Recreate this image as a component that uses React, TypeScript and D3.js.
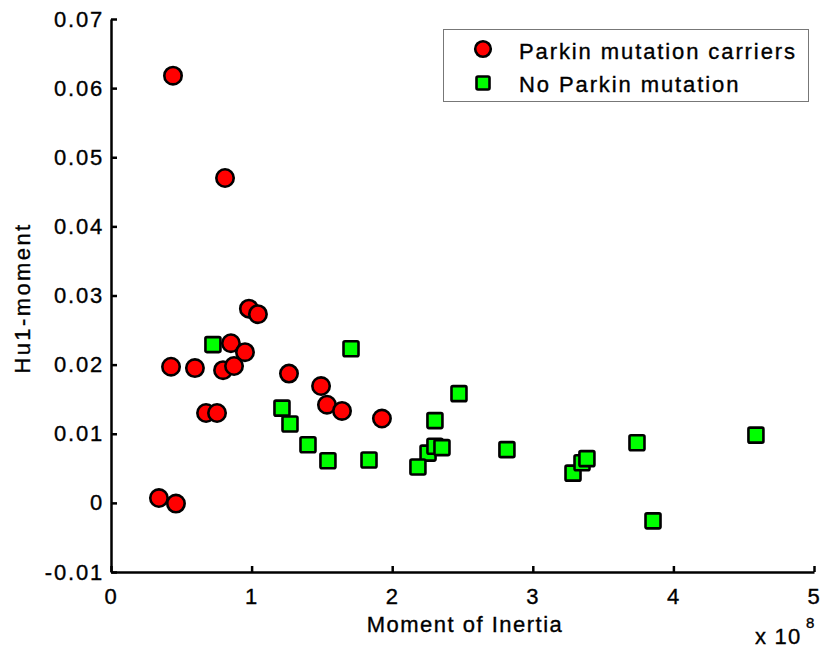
import * as d3 from "d3";
import { useEffect, useRef } from "react";

// Parkin mutation carriers (x in units of 1e8)
const carrierX = [0.441, 0.811, 0.981, 1.045, 0.853, 0.953, 0.427, 0.597, 0.797, 0.875, 1.266, 1.494, 1.536, 1.643, 1.927, 0.676, 0.754, 0.341, 0.462];
const carrierY = [0.0618, 0.047, 0.0281, 0.0273, 0.0231, 0.0218, 0.0197, 0.0195, 0.0192, 0.0198, 0.0187, 0.0169, 0.0142, 0.0133, 0.0122, 0.013, 0.013, 0.0007, -0.0001];

// No Parkin mutation
const noneX = [0.725, 1.707, 1.216, 1.273, 1.401, 1.543, 1.835, 2.475, 2.304, 2.255, 2.304, 2.354, 2.183, 2.816, 3.286, 3.35, 3.385, 3.741, 3.855, 4.587];
const noneY = [0.0229, 0.0223, 0.0137, 0.0114, 0.0084, 0.0061, 0.0062, 0.0158, 0.0119, 0.0072, 0.0082, 0.008, 0.0052, 0.0077, 0.0043, 0.0058, 0.0064, 0.0087, -0.0026, 0.0098];

const xTicks = [0, 1, 2, 3, 4, 5];
const yTicks = [-0.01, 0, 0.01, 0.02, 0.03, 0.04, 0.05, 0.06, 0.07];
const legendLabels = ["Parkin mutation carriers", "No Parkin mutation"];

const FONT = "'Liberation Sans', Arial, Helvetica, sans-serif";

const ScatterPlot = () => {
  const ref = useRef<SVGSVGElement | null>(null);

  useEffect(() => {
    const svg = d3.select(ref.current);
    svg.selectAll("*").remove();

    const x = d3.scaleLinear().domain([0, 5]).range([111, 814]);
    const y = d3.scaleLinear().domain([-0.01, 0.07]).range([572, 19]);

    const styleText = (sel: any, size: number, spacing: number) =>
      sel.attr("fill", "#000")
        .attr("stroke", "#000")
        .attr("stroke-width", 0.35)
        .style("font-family", FONT)
        .style("font-size", size + "px")
        .style("letter-spacing", spacing + "px");

    // axes, MATLAB style: ticks pointing inward, no box
    const gx = svg.append("g")
      .attr("transform", "translate(0,572)")
      .call(d3.axisBottom(x).tickValues(xTicks).tickSizeInner(-6).tickSizeOuter(0).tickPadding(16).tickFormat((d) => String(d)));
    const gy = svg.append("g")
      .attr("transform", "translate(111,0)")
      .call(d3.axisLeft(y).tickValues(yTicks).tickSizeInner(-6).tickSizeOuter(0).tickPadding(7)
        .tickFormat((d) => (+d === 0 ? "0" : String(+(+d).toFixed(2)))));

    [gx, gy].forEach((g) => {
      g.select(".domain").attr("stroke", "#000").attr("stroke-width", 2.5);
      g.selectAll(".tick line").attr("stroke", "#000").attr("stroke-width", 2.5);
      styleText(g.selectAll(".tick text"), 22, 1.8);
    });

    // axis labels
    styleText(svg.append("text")
      .attr("x", 465)
      .attr("y", 632)
      .attr("text-anchor", "middle")
      .text("Moment of Inertia"), 22, 1.5);

    styleText(svg.append("text")
      .attr("x", 755)
      .attr("y", 644)
      .text("x 10"), 22, 1.2);
    styleText(svg.append("text")
      .attr("x", 806)
      .attr("y", 628)
      .text("8"), 15, 0);

    styleText(svg.append("text")
      .attr("transform", "translate(30,298) rotate(-90)")
      .attr("text-anchor", "middle")
      .text("Hu1-moment"), 22, 2.4);

    // points
    svg.append("g")
      .selectAll("circle")
      .data(carrierX.map((v, i) => [v, carrierY[i]]))
      .enter()
      .append("circle")
      .attr("cx", (d) => x(d[0]))
      .attr("cy", (d) => y(d[1]))
      .attr("r", 8.7)
      .attr("fill", "#ff0000")
      .attr("stroke", "#000")
      .attr("stroke-width", 2.6);

    const side = 15;
    svg.append("g")
      .selectAll("rect")
      .data(noneX.map((v, i) => [v, noneY[i]]))
      .enter()
      .append("rect")
      .attr("x", (d) => x(d[0]) - side / 2)
      .attr("y", (d) => y(d[1]) - side / 2)
      .attr("width", side)
      .attr("height", side)
      .attr("rx", 1.5)
      .attr("fill", "#00ff00")
      .attr("stroke", "#000")
      .attr("stroke-width", 2.6);

    // legend
    const legend = svg.append("g");
    legend.append("rect")
      .attr("x", 443.5)
      .attr("y", 29.5)
      .attr("width", 365)
      .attr("height", 72)
      .attr("fill", "#fff")
      .attr("stroke", "#777")
      .attr("stroke-width", 1);
    legend.append("circle")
      .attr("cx", 483)
      .attr("cy", 49)
      .attr("r", 7.8)
      .attr("fill", "#ff0000")
      .attr("stroke", "#000")
      .attr("stroke-width", 2.6);
    legend.append("rect")
      .attr("x", 483 - 6.5)
      .attr("y", 83 - 6.5)
      .attr("width", 13)
      .attr("height", 13)
      .attr("rx", 1.5)
      .attr("fill", "#00ff00")
      .attr("stroke", "#000")
      .attr("stroke-width", 2.6);
    styleText(legend.selectAll("text.lbl")
      .data(legendLabels)
      .enter()
      .append("text")
      .attr("class", "lbl")
      .attr("x", 519)
      .attr("y", (d: string, i: number) => 59 + i * 33)
      .text((d: string) => d), 22, 1.9);
  }, []);

  return <svg ref={ref} width={821} height={648} style={{ display: "block" }} />;
};

export default function App() {
  return (
    <div style={{ position: "absolute", left: 0, top: 0, width: 821, height: 648, overflow: "hidden" }}>
      <ScatterPlot />
    </div>
  );
}
